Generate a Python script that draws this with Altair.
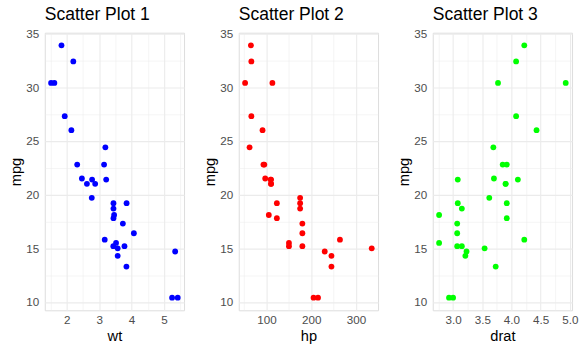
import altair as alt
import pandas as pd

mpg = [21.0, 21.0, 22.8, 21.4, 18.7, 18.1, 14.3, 24.4, 22.8, 19.2, 17.8, 16.4, 17.3, 15.2, 10.4, 10.4,
       14.7, 32.4, 30.4, 33.9, 21.5, 15.5, 15.2, 13.3, 19.2, 27.3, 26.0, 30.4, 15.8, 19.7, 15.0, 21.4]
wt = [2.620, 2.875, 2.320, 3.215, 3.440, 3.460, 3.570, 3.190, 3.150, 3.440, 3.440, 4.070, 3.730, 3.780,
      5.250, 5.424, 5.345, 2.200, 1.615, 1.835, 2.465, 3.520, 3.435, 3.840, 3.845, 1.935, 2.140, 1.513,
      3.170, 2.770, 3.570, 2.780]
hp = [110, 110, 93, 110, 175, 105, 245, 62, 95, 123, 123, 180, 180, 180, 205, 215, 230, 66, 52, 65, 97,
      150, 150, 245, 175, 66, 91, 113, 264, 175, 335, 109]
drat = [3.90, 3.90, 3.85, 3.08, 3.15, 2.76, 3.21, 3.69, 3.92, 3.92, 3.92, 3.07, 3.07, 3.07, 2.93, 3.00,
        3.23, 4.08, 4.93, 4.22, 3.70, 2.76, 3.15, 3.73, 3.08, 4.08, 4.43, 3.77, 4.22, 3.62, 3.54, 4.11]

titles = ["Scatter Plot 1", "Scatter Plot 2", "Scatter Plot 3"]
colors = ["#0000FF", "#FF0000", "#00FF00"]

y_ticks = [10, 12.5, 15, 17.5, 20, 22.5, 25, 27.5, 30, 32.5, 35]
wt_ticks = [1.5, 2, 2.5, 3, 3.5, 4, 4.5, 5, 5.5]
hp_ticks = [50, 100, 150, 200, 250, 300]
drat_ticks = [2.75, 3.0, 3.25, 3.5, 3.75, 4.0, 4.25, 4.5, 4.75, 5.0]

df = pd.DataFrame({"mpg": mpg, "wt": wt, "hp": hp, "drat": drat})

FONT = "Liberation Sans"


def grid_w(test):
    return {"condition": {"test": test, "value": 1.1}, "value": 0.55}


def panel(xfield, title, color, domain, ticks, major_test, fmt):
    x_axis = alt.Axis(
        values=ticks, title=xfield, grid=True, ticks=False, tickSize=0, domain=False,
        labelExpr=f"({major_test}) ? format(datum.value, '{fmt}') : ''",
        gridColor="#EBEBEB", gridWidth=grid_w(major_test),
        labelColor="#4D4D4D", labelFontSize=11.7, labelFont=FONT, labelPadding=4,
        titleFontSize=14.7, titleFont=FONT, titleFontWeight="normal", titleColor="#000000",
        titlePadding=3, labelFlush=False,
    )
    y_axis = alt.Axis(
        values=y_ticks, title="mpg", grid=True, ticks=False, tickSize=0, domain=False,
        labelExpr="(datum.value % 5 === 0) ? format(datum.value, 'd') : ''",
        gridColor="#EBEBEB", gridWidth=grid_w("datum.value % 5 === 0"),
        labelColor="#4D4D4D", labelFontSize=11.7, labelFont=FONT, labelPadding=6,
        titleFontSize=14.7, titleFont=FONT, titleFontWeight="normal", titleColor="#000000",
        titlePadding=2,
    )
    return alt.Chart(df).mark_circle(size=34, opacity=1, color=color).encode(
        x=alt.X(f"{xfield}:Q", scale=alt.Scale(domain=domain, nice=False, zero=False), axis=x_axis),
        y=alt.Y("mpg:Q", scale=alt.Scale(domain=[9.225, 35.075], nice=False, zero=False), axis=y_axis),
    ).properties(
        width=140, height=279,
        title=alt.TitleParams(title, anchor="start", frame="group", fontSize=17.6, font=FONT,
                              fontWeight="normal", color="#000000", offset=5),
    )


c1 = panel("wt", titles[0], colors[0], [1.3185, 5.6195], wt_ticks, "datum.value % 1 === 0", "d")
c2 = panel("hp", titles[1], colors[1], [37.85, 349.15], hp_ticks, "datum.value % 100 === 0", "d")
c3 = panel("drat", titles[2], colors[2], [2.6515, 5.0385], drat_ticks, "(datum.value * 2) % 1 === 0", ".1f")

chart = alt.hconcat(c1, c2, c3, spacing=17).properties(
    padding={"left": 8, "top": 4, "right": 2, "bottom": 4}
).configure_view(stroke=None).configure(background="white")

chart.save("out.html", embed_options={"renderer": "svg", "actions": False})
